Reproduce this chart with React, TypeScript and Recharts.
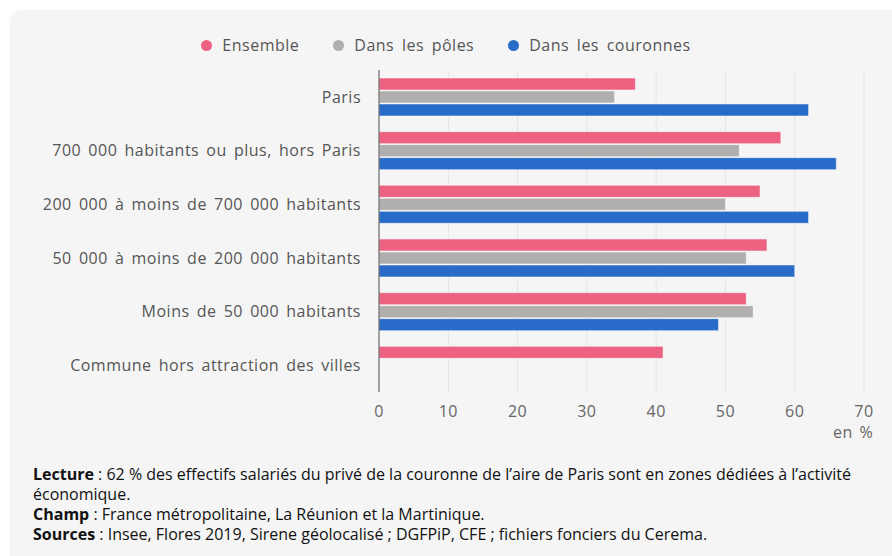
import React from "react";
import { Bar, BarChart, CartesianGrid, XAxis, YAxis } from "recharts";

const categories = [
  "Paris",
  "700 000 habitants ou plus, hors Paris",
  "200 000 à moins de 700 000 habitants",
  "50 000 à moins de 200 000 habitants",
  "Moins de 50 000 habitants",
  "Commune hors attraction des villes",
];
const ensemble = [37, 58, 55, 56, 53, 41];
const poles = [34, 52, 50, 53, 54, null];
const couronnes = [62, 66, 62, 60, 49, null];
const xTicks = [0, 10, 20, 30, 40, 50, 60, 70];

const series = [
  { key: "ensemble", name: "Ensemble", color: "#ed6181" },
  { key: "poles", name: "Dans les pôles", color: "#b0afae" },
  { key: "couronnes", name: "Dans les couronnes", color: "#296bc9" },
];

// footnotes, with the line break of the first one kept as in the source
const notes = [
  { label: "Lecture", text: "62 % des effectifs salariés du privé de la couronne de l’aire de Paris sont en zones dédiées à l’activité", more: "économique." },
  { label: "Champ", text: "France métropolitaine, La Réunion et la Martinique.", more: "" },
  { label: "Sources", text: "Insee, Flores 2019, Sirene géolocalisé ; DGFPiP, CFE ; fichiers fonciers du Cerema.", more: "" },
];

const data = categories.map((name, i) => ({
  name,
  ensemble: ensemble[i],
  poles: poles[i],
  couronnes: couronnes[i],
}));

const font = "'Open Sans', sans-serif";

export default function App() {
  return (
    <div style={{ position: "absolute", left: 0, top: 0, width: 892, height: 556, background: "#fff", overflow: "hidden", fontFamily: font }}>
      <div style={{ position: "absolute", left: 10, top: 10, width: 900, height: 570, background: "#f5f5f5", borderRadius: 12 }} />

      {/* legend */}
      <div style={{ position: "absolute", top: 34, left: 0, width: 892, display: "flex", justifyContent: "center", gap: 34, fontSize: 16, letterSpacing: 0.5, color: "#555", wordSpacing: 3 }}>
        {series.map((s) => (
          <div key={s.key} style={{ display: "flex", alignItems: "center", gap: 10 }}>
            <span style={{ width: 11, height: 11, borderRadius: "50%", background: s.color, display: "inline-block" }} />
            <span>{s.name}</span>
          </div>
        ))}
      </div>

      <div style={{ position: "absolute", left: 0, top: 0 }}>
        <BarChart
          width={892}
          height={440}
          data={data}
          layout="vertical"
          barSize={12}
          barGap={1}
          margin={{ top: 70, right: 28, bottom: 18, left: 0 }}
        >
          <CartesianGrid horizontal={false} stroke="#e3e3e3" />
          <XAxis
            type="number"
            domain={[0, 70]}
            ticks={xTicks}
            axisLine={false}
            tickLine={false}
            tickMargin={8}
            height={30}
            tick={{ fill: "#666", fontSize: 16, fontFamily: font, style: { letterSpacing: 0.5 } }}
          />
          <YAxis
            type="category"
            dataKey="name"
            width={379}
            axisLine={{ stroke: "#555" }}
            tickLine={false}
            tickMargin={12}
            interval={0}
            tick={{ fill: "#555", fontSize: 16, fontFamily: font, style: { wordSpacing: 2.5, letterSpacing: 0.5 } }}
          />
          {series.map((s) => (
            <Bar
              key={s.key}
              dataKey={s.key}
              name={s.name}
              fill={s.color}
              stroke="rgba(255,255,255,0.5)"
              strokeWidth={1}
              isAnimationActive={false}
            />
          ))}
        </BarChart>
      </div>

      <div style={{ position: "absolute", left: 833, top: 421, fontSize: 16, letterSpacing: 0.5, color: "#666", wordSpacing: 2 }}>en %</div>

      <div style={{ position: "absolute", left: 33, top: 464, width: 850, fontSize: 16, lineHeight: "20px", color: "#111", whiteSpace: "nowrap" }}>
        {notes.map((n) => (
          <React.Fragment key={n.label}>
            <div>
              <span style={{ fontWeight: 700 }}>{n.label}</span>
              <span>{" : " + n.text}</span>
            </div>
            {n.more && <div>{n.more}</div>}
          </React.Fragment>
        ))}
      </div>
    </div>
  );
}
